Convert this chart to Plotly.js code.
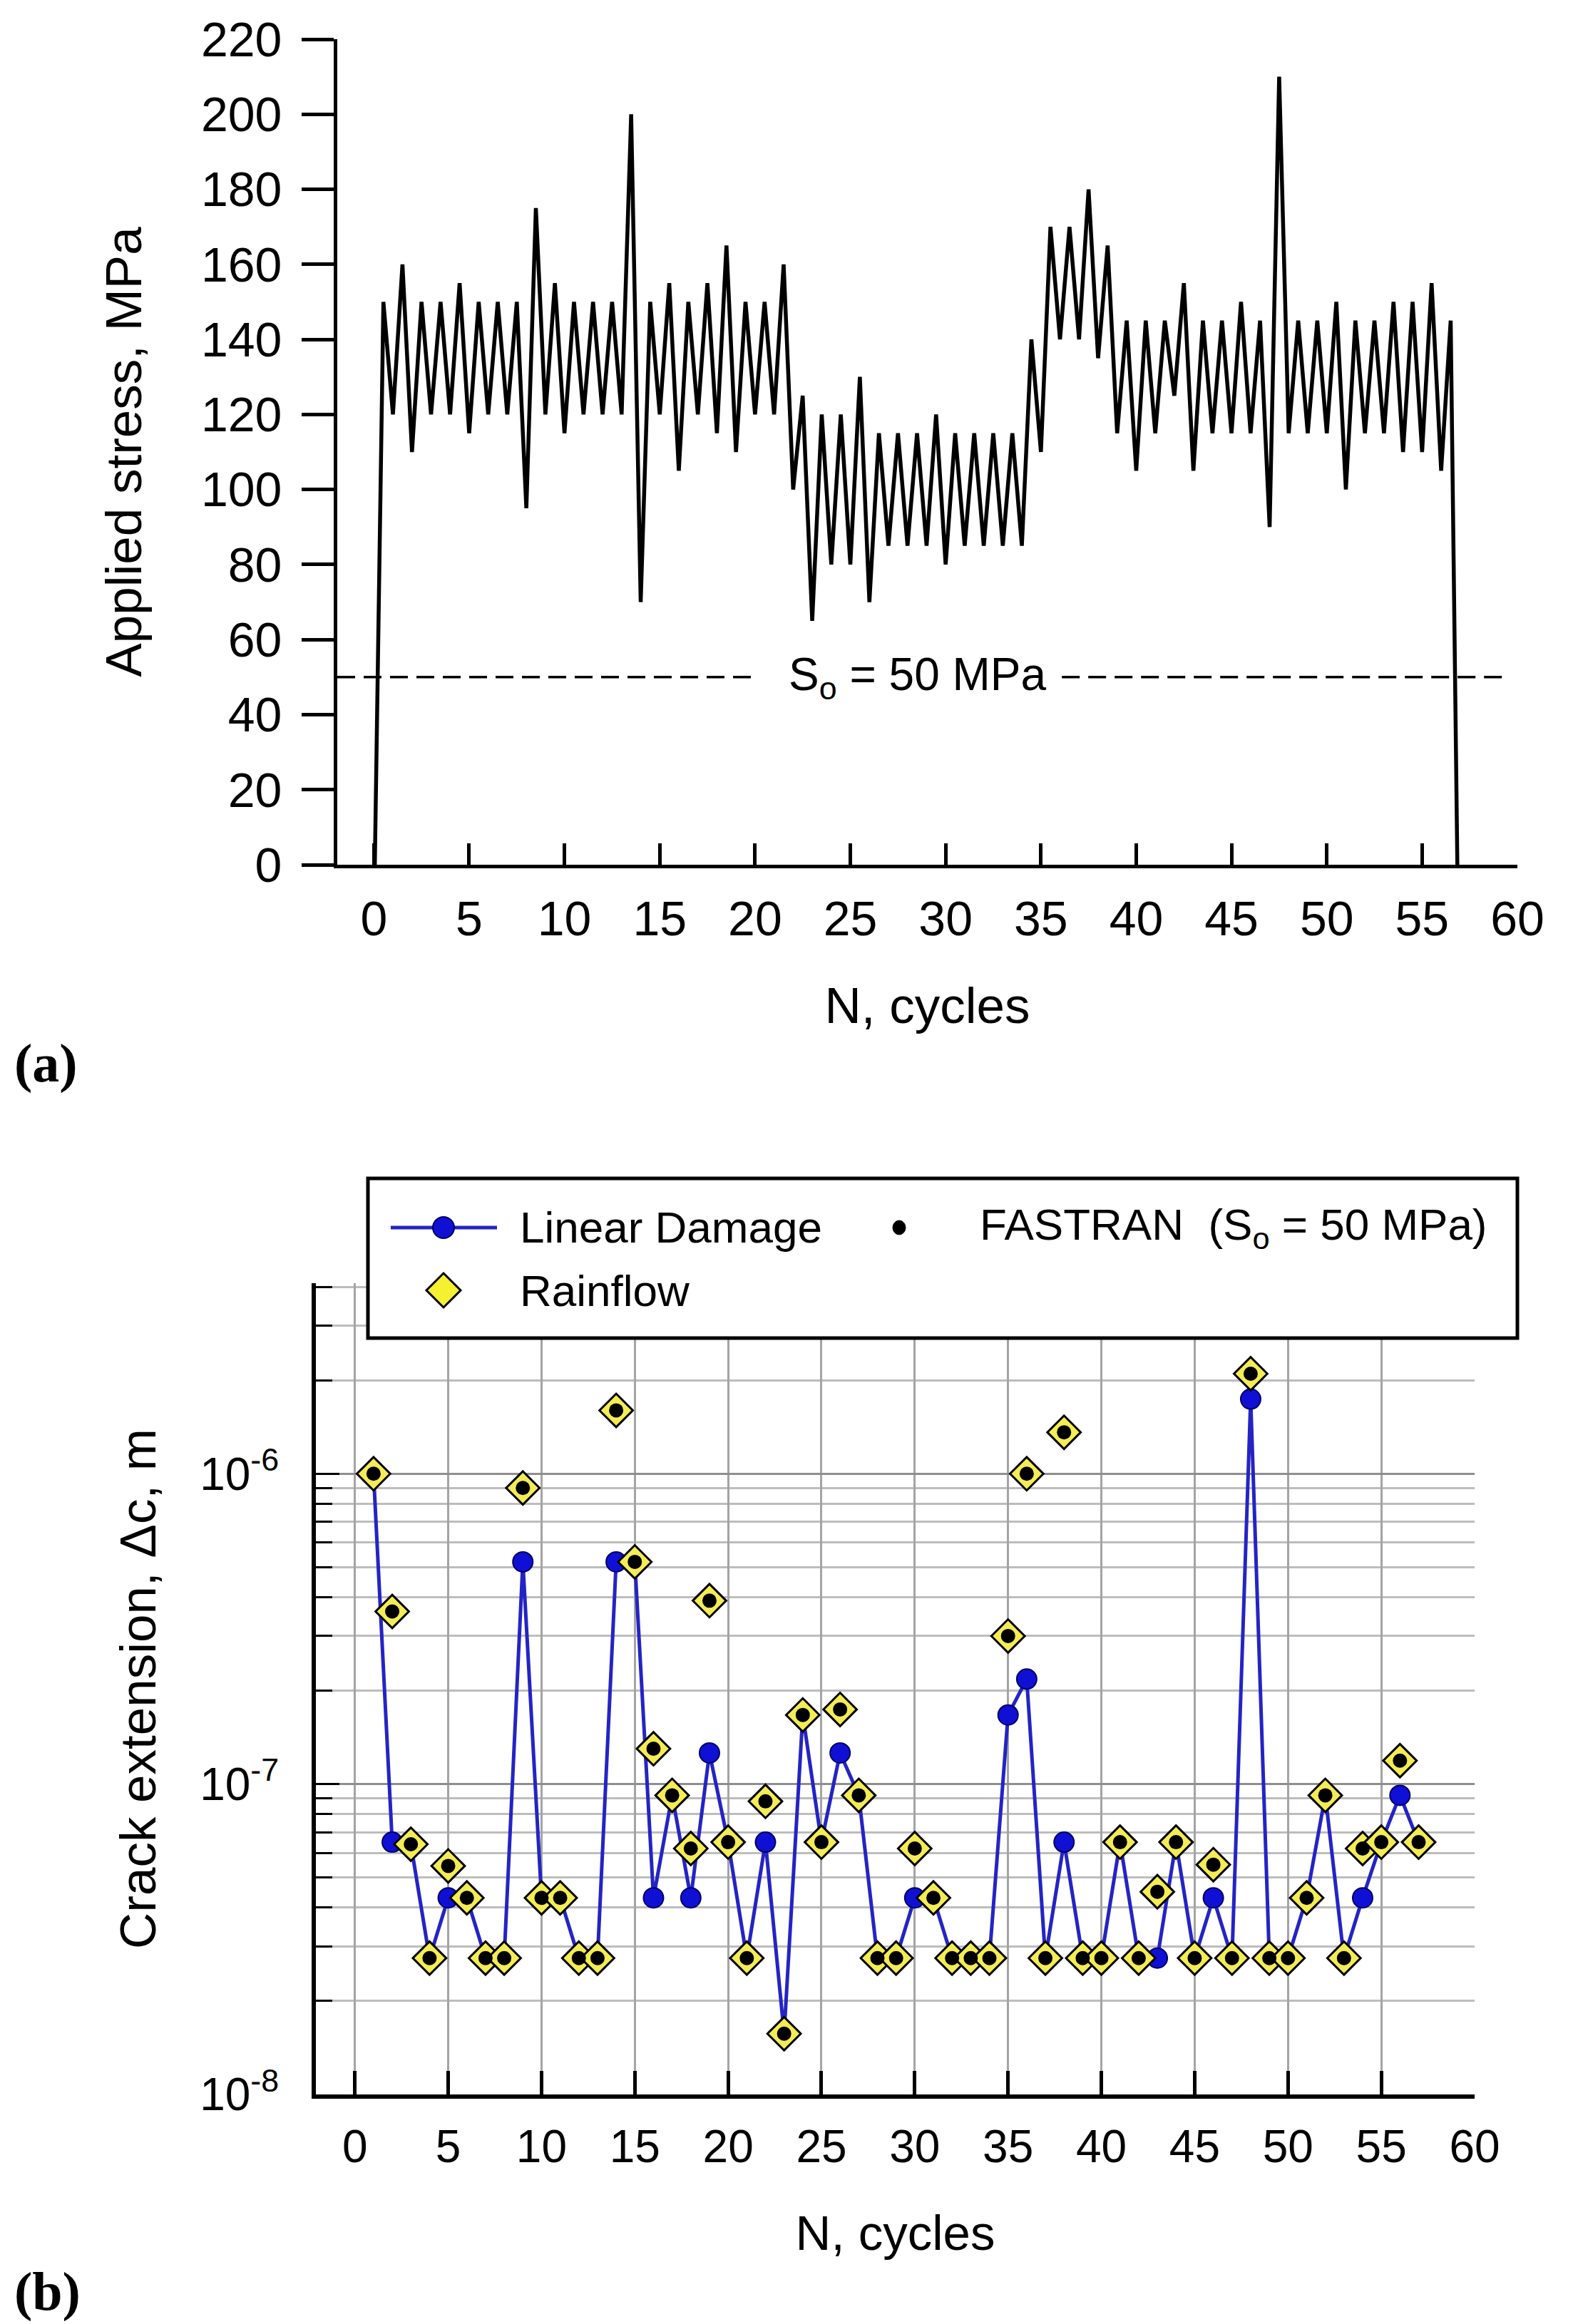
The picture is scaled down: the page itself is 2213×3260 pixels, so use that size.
<!DOCTYPE html>
<html>
<head>
<meta charset="utf-8">
<script src="https://cdn.plot.ly/plotly-3.0.1.min.js"></script>
<style>
  html, body { margin: 0; padding: 0; background: #ffffff; }
  #chart { width: 2213px; height: 3260px; }
</style>
</head>
<body>
<div id="chart"></div>
<script>
// ---------------- DATA ----------------
// cycle numbers
const cycles = [1,2,3,4,5,6,7,8,9,10,11,12,13,14,15,16,17,18,19,20,21,22,23,24,25,26,27,28,29,30,
  31,32,33,34,35,36,37,38,39,40,41,42,43,44,45,46,47,48,49,50,51,52,53,54,55,56,57];

// (a) applied stress (MPa): peak of each cycle and the valley that follows it
const peakStress = [150,160,150,150,155,150,150,150,175,155,
  150,150,150,200,150,155,150,155,165,150,
  150,160,125,120,120,130,115,115,115,120,
  115,115,115,115,140,170,170,180,165,145,
  145,145,155,145,145,150,145,210,145,145,
  150,145,145,150,150,155,145];
const valleyStress = [120,110,120,120,115,120,120,95,120,115,
  120,120,120,70,120,105,120,115,110,120,
  120,100,65,80,80,70,85,85,85,80,
  85,85,85,85,110,140,140,135,115,105,
  115,125,105,115,115,115,90,115,115,115,
  100,115,115,110,110,105];
const startCycle = 0.05, startStress = 0;
const endCycle = 56.85, endStress = 0;
const flowStress = 50;            // S_o = 50 MPa

// (b) crack extension per cycle (m)
const linearDamage = [1e-6,6.5e-8,6.4e-8,2.75e-8,4.3e-8,4.3e-8,2.75e-8,2.75e-8,5.2e-7,4.3e-8,
  4.3e-8,2.75e-8,2.75e-8,5.2e-7,5.2e-7,4.3e-8,9.2e-8,4.3e-8,1.26e-7,6.5e-8,
  2.75e-8,6.5e-8,1.57e-8,1.67e-7,6.5e-8,1.26e-7,9.2e-8,2.75e-8,2.75e-8,4.3e-8,
  4.3e-8,2.75e-8,2.75e-8,2.75e-8,1.67e-7,2.18e-7,2.75e-8,6.5e-8,2.75e-8,2.75e-8,
  6.5e-8,2.75e-8,2.75e-8,6.5e-8,2.75e-8,4.3e-8,2.75e-8,1.74e-6,2.75e-8,2.75e-8,
  4.3e-8,9.2e-8,2.75e-8,4.3e-8,6.5e-8,9.2e-8,6.5e-8];
const rainflow = [1e-6,3.6e-7,6.4e-8,2.75e-8,5.45e-8,4.3e-8,2.75e-8,2.75e-8,9.0e-7,4.3e-8,
  4.3e-8,2.75e-8,2.75e-8,1.6e-6,5.2e-7,1.3e-7,9.2e-8,6.2e-8,3.9e-7,6.5e-8,
  2.75e-8,8.8e-8,1.57e-8,1.67e-7,6.5e-8,1.74e-7,9.2e-8,2.75e-8,2.75e-8,6.2e-8,
  4.3e-8,2.75e-8,2.75e-8,2.75e-8,3.0e-7,1.0e-6,2.75e-8,1.36e-6,2.75e-8,2.75e-8,
  6.5e-8,2.75e-8,4.5e-8,6.5e-8,2.75e-8,5.5e-8,2.75e-8,2.1e-6,2.75e-8,2.75e-8,
  4.3e-8,9.2e-8,2.75e-8,6.2e-8,6.5e-8,1.19e-7,6.5e-8];
const fastran = [1e-6,3.6e-7,6.4e-8,2.75e-8,5.45e-8,4.3e-8,2.75e-8,2.75e-8,9.0e-7,4.3e-8,
  4.3e-8,2.75e-8,2.75e-8,1.6e-6,5.2e-7,1.3e-7,9.2e-8,6.2e-8,3.9e-7,6.5e-8,
  2.75e-8,8.8e-8,1.57e-8,1.67e-7,6.5e-8,1.74e-7,9.2e-8,2.75e-8,2.75e-8,6.2e-8,
  4.3e-8,2.75e-8,2.75e-8,2.75e-8,3.0e-7,1.0e-6,2.75e-8,1.36e-6,2.75e-8,2.75e-8,
  6.5e-8,2.75e-8,4.5e-8,6.5e-8,2.75e-8,5.5e-8,2.75e-8,2.1e-6,2.75e-8,2.75e-8,
  4.3e-8,9.2e-8,2.75e-8,6.2e-8,6.5e-8,1.19e-7,6.5e-8];

const xTicks = [0,5,10,15,20,25,30,35,40,45,50,55,60];
const decadeVals = [1e-8, 1e-7, 1e-6];
const decadeText = ['10<sup>-8</sup>', '10<sup>-7</sup>', '10<sup>-6</sup>'];
const minorVals = [2e-8,3e-8,4e-8,5e-8,6e-8,7e-8,8e-8,9e-8,
  2e-7,3e-7,4e-7,5e-7,6e-7,7e-7,8e-7,9e-7, 2e-6,3e-6,4e-6];

// ---------------- build stress history ----------------
const stressX = [startCycle], stressY = [startStress];
for (let i = 0; i < cycles.length; i++) {
  stressX.push(cycles[i] - 0.5); stressY.push(peakStress[i]);
  if (i < valleyStress.length) { stressX.push(cycles[i]); stressY.push(valleyStress[i]); }
}
stressX.push(endCycle); stressY.push(endStress);

// ---------------- layout helpers (pixel -> paper) ----------------
const W = 2213, H = 3260;
const px = v => v / W;
const py = v => 1 - v / H;

const SANS = 'Liberation Sans, Arial, Helvetica, sans-serif';
const SERIF = 'Liberation Serif, Times New Roman, serif';
const NB = '\u00a0';

const traces = [
  { x: stressX, y: stressY, xaxis: 'x', yaxis: 'y', type: 'scatter', mode: 'lines',
    line: { color: '#000000', width: 5.5 }, name: 'Applied stress', hoverinfo: 'x+y' },
  { x: cycles, y: linearDamage, xaxis: 'x2', yaxis: 'y2', type: 'scatter', mode: 'lines+markers',
    line: { color: '#2424c4', width: 5 },
    marker: { symbol: 'circle', size: 28, color: '#1010d4', line: { color: '#000066', width: 2 } },
    name: 'Linear Damage', cliponaxis: false },
  { x: cycles, y: rainflow, xaxis: 'x2', yaxis: 'y2', type: 'scatter', mode: 'markers',
    marker: { symbol: 'diamond', size: 36, color: '#f3ec55', line: { color: '#000000', width: 3 } },
    name: 'Rainflow', cliponaxis: false },
  { x: cycles, y: fastran, xaxis: 'x2', yaxis: 'y2', type: 'scatter', mode: 'markers',
    marker: { symbol: 'circle', size: 20, color: '#000000' },
    name: 'FASTRAN (So = 50 MPa)', cliponaxis: false }
];

// legend geometry (pixels)
const LG = { x0: 516, x1: 2128, y0: 1653, y1: 1877, r1: 1722, r2: 1810 };
const dia = (cx, cy, r) =>
  `M ${px(cx)},${py(cy - r)} L ${px(cx + r)},${py(cy)} L ${px(cx)},${py(cy + r)} L ${px(cx - r)},${py(cy)} Z`;

const shapes = [
  // S_o dashed reference line (two pieces, gap for label)
  { type: 'line', xref: 'x', yref: 'y', x0: -1.92, x1: 19.96, y0: flowStress, y1: flowStress,
    line: { color: '#000', width: 3.5, dash: '25px,12px' } },
  { type: 'line', xref: 'x', yref: 'y', x0: 36.1, x1: 59.6, y0: flowStress, y1: flowStress,
    line: { color: '#000', width: 3.5, dash: '25px,12px' } },
  // legend box
  { type: 'rect', xref: 'paper', yref: 'paper', layer: 'above',
    x0: px(LG.x0), x1: px(LG.x1), y0: py(LG.y1), y1: py(LG.y0),
    fillcolor: '#ffffff', line: { color: '#000', width: 5 } },
  { type: 'line', xref: 'paper', yref: 'paper', layer: 'above',
    x0: px(548), x1: px(697), y0: py(LG.r1), y1: py(LG.r1), line: { color: '#2424c4', width: 5 } },
  { type: 'circle', xref: 'paper', yref: 'paper', layer: 'above',
    x0: px(607), x1: px(637), y0: py(LG.r1 + 15), y1: py(LG.r1 - 15),
    fillcolor: '#1010d4', line: { color: '#000066', width: 2 } },
  { type: 'circle', xref: 'paper', yref: 'paper', layer: 'above',
    x0: px(1252), x1: px(1270), y0: py(LG.r1 + 10), y1: py(LG.r1 - 10),
    fillcolor: '#000', line: { color: '#000', width: 1 } },
  { type: 'path', xref: 'paper', yref: 'paper', layer: 'above', path: dia(622, LG.r2, 24),
    fillcolor: '#f5f030', line: { color: '#000', width: 3 } }
];

const annotations = [
  { xref: 'x', yref: 'y', x: 21.7, y: flowStress, xanchor: 'left', yanchor: 'middle',
    text: 'S<sub>o</sub> = 50 MPa', showarrow: false, font: { family: SANS, size: 64, color: '#000' } },
  { xref: 'paper', yref: 'paper', x: px(727), y: py(LG.r1), xanchor: 'left', yanchor: 'middle',
    text: 'Linear Damage', showarrow: false, font: { family: SANS, size: 62, color: '#000' } },
  { xref: 'paper', yref: 'paper', x: px(1372), y: py(LG.r1), xanchor: 'left', yanchor: 'middle',
    text: 'FASTRAN' + NB + NB + '(S<sub>o</sub> = 50 MPa)', showarrow: false, font: { family: SANS, size: 62, color: '#000' } },
  { xref: 'paper', yref: 'paper', x: px(727), y: py(LG.r2), xanchor: 'left', yanchor: 'middle',
    text: 'Rainflow', showarrow: false, font: { family: SANS, size: 62, color: '#000' } },
  { xref: 'paper', yref: 'paper', x: px(18), y: py(1491), xanchor: 'left', yanchor: 'middle',
    text: '(a)', showarrow: false, font: { family: SERIF, size: 76, color: '#000', weight: 'bold' } },
  { xref: 'paper', yref: 'paper', x: px(18), y: py(3214), xanchor: 'left', yanchor: 'middle',
    text: '(b)', showarrow: false, font: { family: SERIF, size: 76, color: '#000', weight: 'bold' } }
];

const layout = {
  width: W, height: H,
  margin: { l: 0, r: 0, t: 0, b: 0, pad: 0 },
  paper_bgcolor: '#ffffff', plot_bgcolor: '#ffffff',
  showlegend: false,
  font: { family: SANS, color: '#000' },
  xaxis: {
    domain: [px(473), px(2128)], anchor: 'y', range: [-1.92, 60],
    tickmode: 'array', tickvals: xTicks, ticktext: xTicks.map(String),
    ticks: 'inside', ticklen: 30, tickwidth: 5, tickcolor: '#000',
    showline: true, linewidth: 5, linecolor: '#000', showgrid: false, zeroline: false,
    tickfont: { family: SANS, size: 68, color: '#000' }, ticklabelstandoff: 12,
    title: { text: 'N, cycles', font: { family: SANS, size: 71, color: '#000' }, standoff: 62 }
  },
  yaxis: {
    domain: [py(1213), py(55)], anchor: 'x', range: [0, 220],
    tick0: 0, dtick: 20,
    ticks: 'outside', ticklen: 45, tickwidth: 5, tickcolor: '#000',
    showline: true, linewidth: 5, linecolor: '#000', showgrid: false, zeroline: false,
    tickfont: { family: SANS, size: 68, color: '#000' }, ticklabelstandoff: 14,
    title: { text: 'Applied stress, MPa' + NB.repeat(4), font: { family: SANS, size: 71, color: '#000' }, standoff: 62 }
  },
  xaxis2: {
    domain: [px(443), px(2068)], anchor: 'y2', range: [-2.09, 60],
    tickmode: 'array', tickvals: xTicks, ticktext: xTicks.map(String),
    ticks: 'inside', ticklen: 33, tickwidth: 5, tickcolor: '#000',
    showline: true, linewidth: 6, linecolor: '#000',
    showgrid: true, gridcolor: '#a4a4a4', gridwidth: 3, zeroline: false,
    tickfont: { family: SANS, size: 64, color: '#000' }, ticklabelstandoff: 12,
    title: { text: 'N, cycles', font: { family: SANS, size: 69, color: '#000' }, standoff: 64 }
  },
  yaxis2: {
    type: 'log', domain: [py(2938), py(1800)], anchor: 'x2', range: [-8, -5.386],
    tickmode: 'array', tickvals: decadeVals, ticktext: decadeText,
    ticks: 'inside', ticklen: 33, tickwidth: 3, tickcolor: '#000',
    showline: true, linewidth: 6, linecolor: '#000',
    showgrid: true, gridcolor: '#8e8e8e', gridwidth: 3, zeroline: false,
    minor: { tickmode: 'array', tickvals: minorVals, ticks: 'inside', ticklen: 23, tickwidth: 3,
             tickcolor: '#000', showgrid: true, gridcolor: '#bdbdbd', gridwidth: 3 },
    tickfont: { family: SANS, size: 64, color: '#000' }, ticklabelstandoff: 33,
    title: { text: 'Crack extension, \u0394c, m' + NB.repeat(5), font: { family: SANS, size: 71, color: '#000' }, standoff: 40 }
  },
  shapes: shapes,
  annotations: annotations
};

Plotly.newPlot('chart', traces, layout, { staticPlot: true, displayModeBar: false });
</script>
</body>
</html>
